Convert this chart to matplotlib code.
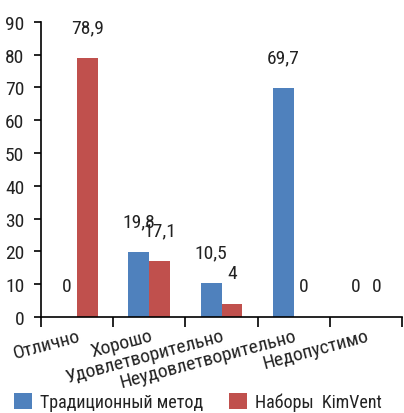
import matplotlib
matplotlib.use("Agg")
import matplotlib.pyplot as plt
from matplotlib import font_manager
import numpy as np

categories = ["Отлично", "Хорошо", "Удовлетворительно", "Неудовлетворительно", "Недопустимо"]
traditional = [0, 19.8, 10.5, 69.7, 0]
kimvent = [78.9, 17.1, 4, 0, 0]
series_names = ["Традиционный метод", "Наборы  KimVent"]

BLUE = "#4F81BD"
RED = "#C0504D"
INK = "#222222"

# narrowest face available
names = {f.name for f in font_manager.fontManager.ttflist}
FONT = "Roboto"
for cand in ("Roboto Condensed", "Liberation Sans Narrow", "Open Sans Condensed"):
    if cand in names:
        FONT = cand
        break


def fmt(v):
    return f"{v:g}".replace(".", ",")


def main():
    plt.rcParams["font.family"] = [FONT, "DejaVu Sans"]
    fig = plt.figure(figsize=(4.04, 4.14), dpi=100)
    ax = fig.add_axes([41 / 404, 1 - 318 / 414, 361 / 404, 295.3 / 414])

    x = np.arange(len(categories))
    w = 0.29
    b1 = ax.bar(x - w / 2, traditional, w, color=BLUE, label=series_names[0])
    b2 = ax.bar(x + w / 2, kimvent, w, color=RED, label=series_names[1])

    for bars, vals in ((b1, traditional), (b2, kimvent)):
        for rect, v in zip(bars, vals):
            ax.annotate(fmt(v), (rect.get_x() + rect.get_width() / 2, v),
                        xytext=(0, 22), textcoords="offset points",
                        ha="center", va="center", fontsize=14, color=INK)

    ax.set_xlim(-0.5, len(categories) - 0.5)
    ax.set_ylim(0, 90)
    ax.set_yticks(range(0, 91, 10))
    ax.spines["top"].set_visible(False)
    ax.spines["right"].set_visible(False)

    ax.set_xticks(x)
    ax.set_xticklabels(categories)
    ax.set_xticks(np.arange(-0.5, len(categories), 1), minor=True)
    ax.tick_params(axis="x", which="major", length=0, pad=7)
    ax.tick_params(axis="x", which="minor", length=7, width=1.2, direction="out")
    ax.tick_params(axis="y", length=5, width=1.2, pad=7)
    for lab in ax.get_xticklabels():
        lab.set_rotation(15)
        lab.set_ha("right")
        lab.set_va("top")
        lab.set_rotation_mode("anchor")
        lab.set_fontsize(14)
        lab.set_color(INK)
    for lab in ax.get_yticklabels():
        lab.set_fontsize(14)
        lab.set_color(INK)
    for s in ("left", "bottom"):
        ax.spines[s].set_linewidth(1.2)

    fig.legend(loc="center", bbox_to_anchor=(0.49, 1 - 403 / 414), ncol=2,
               frameon=False, handlelength=1.0, handleheight=1.0,
               handletextpad=0.45, columnspacing=1.4,
               prop=dict(size=13), labelcolor=INK)

    fig.savefig("out.png", dpi=100)


if __name__ == "__main__":
    main()
